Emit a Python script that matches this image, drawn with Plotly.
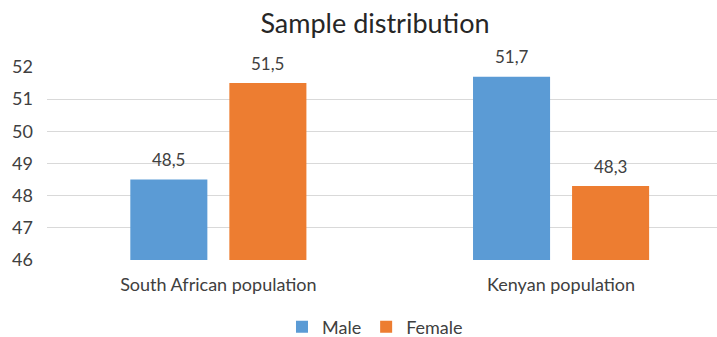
import plotly.graph_objects as go

# Sample distribution by sex (%)
categories = ["South African population", "Kenyan population"]
male = [48.5, 51.7]
female = [51.5, 48.3]
y_ticks = [46, 47, 48, 49, 50, 51, 52]
AXIS_MIN = 46

BLUE = "#5B9BD5"
ORANGE = "#ED7D31"
TEXT = "#404040"
FONT = "Lato"

BARGAP = 0.422
GROUPGAP = 0.222

fig = go.Figure()
series = [("Male", male, BLUE), ("Female", female, ORANGE)]
for name, vals, color in series:
    fig.add_trace(go.Bar(
        name=name,
        x=categories,
        y=[v - AXIS_MIN for v in vals],
        base=AXIS_MIN,
        marker=dict(color=color, line=dict(width=0)),
        hoverinfo="skip",
    ))

# value labels above each bar, centred on the bar's slot within its group
slot = (1 - BARGAP) / len(series)
for k, (name, vals, color) in enumerate(series):
    off = -(1 - BARGAP) / 2 + slot * (k + 0.5)
    for i, v in enumerate(vals):
        fig.add_annotation(
            x=i + off, y=v, xref="x", yref="y",
            text=f"{v:.1f}".replace(".", ","),
            showarrow=False, yanchor="middle", yshift=20,
            font=dict(family=FONT, size=17, color=TEXT),
        )

fig.update_layout(
    width=717,
    height=337,
    margin=dict(l=47, r=0, t=67, b=77, autoexpand=False),
    paper_bgcolor="white",
    plot_bgcolor="white",
    barmode="group",
    bargap=BARGAP,
    bargroupgap=GROUPGAP,
    title=dict(
        text="Sample distribution",
        x=375 / 717,
        xanchor="center",
        y=1 - 24 / 337,
        yanchor="middle",
        font=dict(family=FONT, size=27, color="#262626"),
    ),
    xaxis=dict(
        range=[-0.5, 1.455],
        showgrid=False,
        showline=False,
        ticks="",
        ticklabelstandoff=12,
        tickfont=dict(family=FONT, size=18, color=TEXT),
    ),
    yaxis=dict(
        range=[46, 52],
        tickvals=y_ticks,
        ticktext=[str(t) for t in y_ticks],
        showgrid=True,
        gridcolor="#D9D9D9",
        gridwidth=1,
        zeroline=False,
        showline=False,
        ticks="",
        ticklabelstandoff=13,
        tickfont=dict(family=FONT, size=18, color=TEXT),
    ),
    legend=dict(
        orientation="h",
        yref="container",
        x=351 / 717,
        xanchor="center",
        y=10 / 337,
        yanchor="middle",
        font=dict(family=FONT, size=18, color=TEXT),
        itemwidth=30,
        traceorder="normal",
    ),
    showlegend=True,
)

fig.write_html("out.html")
